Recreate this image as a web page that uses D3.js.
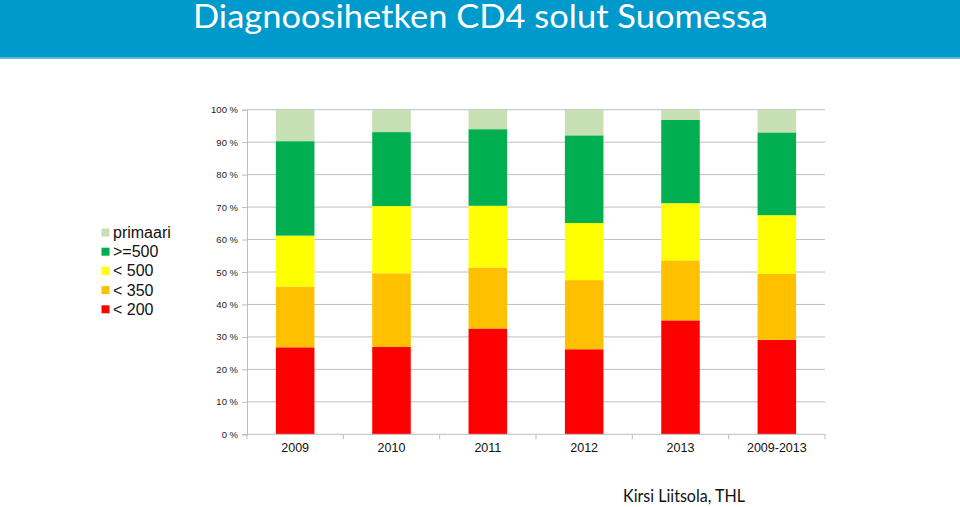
<!DOCTYPE html>
<html><head><meta charset="utf-8">
<script src="https://cdn.jsdelivr.net/npm/d3@7"></script>
<style>html,body{margin:0;padding:0;background:#fff;}svg{display:block;}</style>
</head><body>
<svg id="c" width="960" height="507"></svg>
<script>
const categories = ["2009","2010","2011","2012","2013","2009-2013"];
const seriesNames = ["< 200","< 350","< 500",">=500","primaari"];
const lt200 = [26.8, 26.9, 32.6, 26.2, 35.1, 29.1];
const lt350 = [18.7, 22.7, 18.8, 21.3, 18.5, 20.3];
const lt500 = [15.7, 20.7, 19.0, 17.6, 17.6, 18.1];
const ge500 = [29.1, 22.8, 23.6, 27.0, 25.7, 25.5];
const primaari = [9.7, 6.9, 6.0, 7.9, 3.1, 7.0];
const yTicks = [0,10,20,30,40,50,60,70,80,90,100];
const colors = ["#FF0000","#FFC000","#FFFF00","#00B050","#C6E0B4"];
const titleText = "Diagnoosihetken CD4 solut Suomessa";
const authorText = "Kirsi Liitsola, THL";

const svg = d3.select("#c");
// header
svg.append("rect").attr("x",0).attr("y",0).attr("width",960).attr("height",58).attr("fill","#0099CC");
svg.append("rect").attr("x",0).attr("y",57).attr("width",960).attr("height",2).attr("fill","#5DB8DE");
svg.append("text").attr("x",193).attr("y",28).attr("fill","#fff")
  .attr("font-family","Lato, 'Open Sans', sans-serif").attr("font-size",32)
  .attr("textLength",575).attr("lengthAdjust","spacingAndGlyphs").text(titleText);

const pLeft=247, pRight=825, pTop=109.7, pBottom=434.3;
const x = d3.scaleBand().domain(categories).range([pLeft,pRight]).paddingInner(0.6).paddingOuter(0.3);
const xb = d3.scaleBand().domain(categories).range([pLeft,pRight]);
const y = d3.scaleLinear().domain([0,100]).range([pBottom,pTop]);

const rows = categories.map((c,i)=>({cat:c, "< 200":lt200[i], "< 350":lt350[i], "< 500":lt500[i], ">=500":ge500[i], "primaari":primaari[i]}));
const stack = d3.stack().keys(seriesNames)(rows);

// gridlines
svg.append("g").selectAll("line").data(yTicks.filter(t=>t>0)).join("line")
  .attr("x1",pLeft).attr("x2",pRight).attr("y1",d=>y(d)).attr("y2",d=>y(d))
  .attr("stroke","#BEBEBE").attr("stroke-width",1);

// bars
svg.append("g").selectAll("g").data(stack).join("g").attr("fill",(d,i)=>colors[i])
  .selectAll("rect").data(d=>d).join("rect")
  .attr("x",d=>x(d.data.cat)).attr("width",x.bandwidth())
  .attr("y",d=>y(d[1])).attr("height",d=>y(d[0])-y(d[1]));

// y axis
const yAxis = d3.axisLeft(y).tickValues(yTicks).tickFormat(d=>d+" %").tickSize(5).tickPadding(4);
const gy = svg.append("g").attr("transform",`translate(${pLeft},0)`).call(yAxis);
gy.select(".domain").attr("stroke","#BEBEBE");
gy.selectAll(".tick line").attr("stroke","#BEBEBE");
gy.selectAll("text").attr("font-family","Arial, 'Liberation Sans', sans-serif").attr("font-size",9.5).attr("fill","#222");

// x axis
const gx = svg.append("g").attr("transform",`translate(0,${pBottom})`);
gx.append("line").attr("x1",pLeft).attr("x2",pRight).attr("stroke","#BEBEBE");
gx.selectAll(".tk").data(categories.concat(["end"])).join("line").attr("class","tk")
  .attr("x1",(d,i)=> i<categories.length? xb(d): pRight).attr("x2",(d,i)=> i<categories.length? xb(d): pRight)
  .attr("y1",0).attr("y2",5).attr("stroke","#BEBEBE");
gx.selectAll("text").data(categories).join("text")
  .attr("x",d=>xb(d)+xb.bandwidth()/2).attr("y",18).attr("text-anchor","middle")
  .attr("font-family","Arial, 'Liberation Sans', sans-serif").attr("font-size",12.5).attr("fill","#111").text(d=>d);

// legend
const legendOrder = ["primaari",">=500","< 500","< 350","< 200"];
const lg = svg.append("g");
legendOrder.forEach((name,i)=>{
  const ci = seriesNames.indexOf(name);
  const yy = 232.5 + i*19.2;
  lg.append("rect").attr("x",101.5).attr("y",yy-4).attr("width",8).attr("height",8).attr("fill",colors[ci]);
  lg.append("text").attr("x",113).attr("y",yy+5.5).attr("font-family","Arial, 'Liberation Sans', sans-serif")
    .attr("font-size",16).attr("fill","#111").text(name);
});

// author
svg.append("text").attr("x",623).attr("y",502).attr("font-family","Lato, 'Open Sans', sans-serif")
  .attr("font-size",16.5).attr("fill","#111").attr("textLength",122).attr("lengthAdjust","spacingAndGlyphs").text(authorText);
</script>
</body></html>
